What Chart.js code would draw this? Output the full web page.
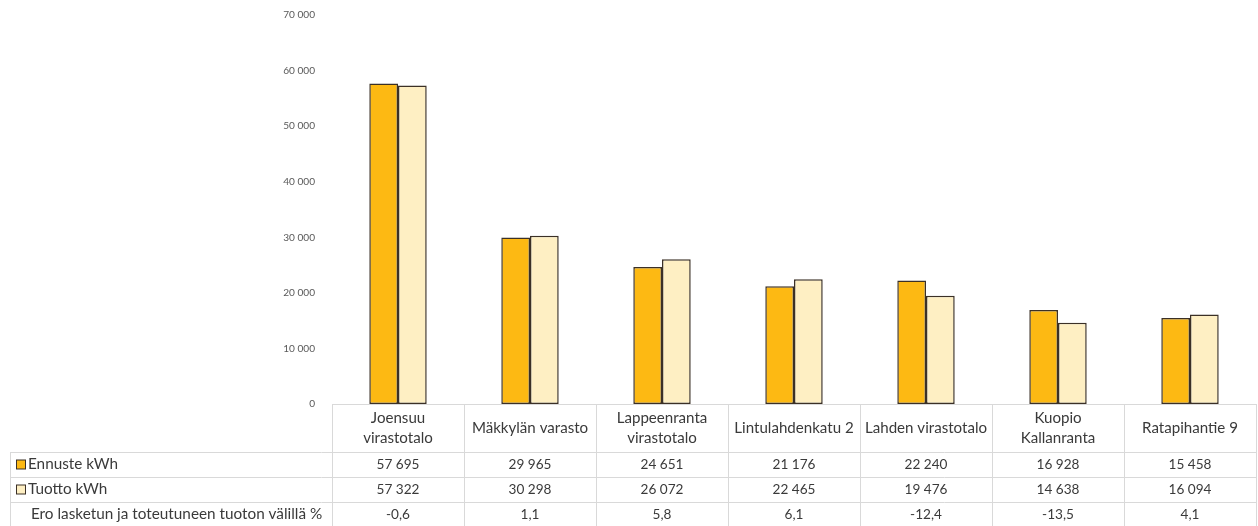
<!DOCTYPE html>
<html>
<head>
<meta charset="utf-8">
<script src="https://cdn.jsdelivr.net/npm/chart.js@4.4.1/dist/chart.umd.min.js"></script>
<style>
  html, body { margin: 0; padding: 0; background: #fff; }
  #wrap { width: 1258px; height: 526px; position: relative; }
</style>
</head>
<body>
<div id="wrap"><canvas id="kaavio"></canvas></div>
<script>
// kohteet (monirivinen nimi taulukon otsikkoriville)
const kohteet = [
  ["Joensuu", "virastotalo"],
  ["Mäkkylän varasto"],
  ["Lappeenranta", "virastotalo"],
  ["Lintulahdenkatu 2"],
  ["Lahden virastotalo"],
  ["Kuopio", "Kallanranta"],
  ["Ratapihantie 9"]
];
const ennuste = [57695, 29965, 24651, 21176, 22240, 16928, 15458];
const tuotto = [57322, 30298, 26072, 22465, 19476, 14638, 16094];
const ero = ["-0,6", "1,1", "5,8", "6,1", "-12,4", "-13,5", "4,1"];
const rivit = ["Ennuste kWh", "Tuotto kWh", "Ero lasketun ja toteutuneen tuoton välillä %"];
const yMax = 70000;
const yAskel = 10000;

const oranssi = "#FDB913";
const vaalea = "#FEEFC3";
const reuna = "#3b3026";
const fontti = "Lato, 'Open Sans', sans-serif";

function tuhannet(v) {
  return String(v).replace(/\B(?=(\d{3})+(?!\d))/g, " ");
}

// fonttikoko, jolla teksti on halutun levyinen (alkuperainen on Calibri)
const mittari = document.createElement("canvas").getContext("2d");
function koko(teksti, leveys) {
  mittari.font = "100px " + fontti;
  return Math.round(1000 * leveys / mittari.measureText(teksti).width) / 10;
}
const kokoRivi = koko(rivit[2], 292);
const kokoOts = koko("Mäkkylän varasto", 116);
const kokoLuku = koko("57 695", 43);
const kokoTick = koko("70 000", 32);

// piirretaan datataulukko kaavion alle
const taulukko = {
  id: "taulukko",
  afterDraw(chart) {
    const ctx = chart.ctx;
    const a = chart.chartArea;
    const n = kohteet.length;
    const lev = (a.right - a.left) / n;
    const y0 = a.bottom;
    const otsK = 48, riviK = 25;
    const ala = y0 + otsK + 3 * riviK;
    ctx.save();
    ctx.strokeStyle = "#d9d9d9";
    ctx.lineWidth = 1;
    ctx.beginPath();
    ctx.moveTo(a.left, y0 + 0.5); ctx.lineTo(a.right, y0 + 0.5);
    for (let r = 0; r < 3; r++) {
      const yy = Math.round(y0 + otsK + r * riviK) + 0.5;
      ctx.moveTo(10, yy); ctx.lineTo(a.right, yy);
    }
    ctx.moveTo(10.5, y0 + otsK); ctx.lineTo(10.5, ala);
    for (let i = 0; i <= n; i++) {
      const xx = Math.round(a.left + i * lev) + 0.5;
      ctx.moveTo(xx, y0); ctx.lineTo(xx, ala);
    }
    ctx.stroke();

    ctx.fillStyle = "#3a3a3a";
    ctx.textAlign = "center";
    ctx.textBaseline = "middle";
    for (let i = 0; i < n; i++) {
      const cx = a.left + (i + 0.5) * lev;
      const nimi = kohteet[i];
      const keski = y0 + otsK / 2;
      ctx.font = kokoOts + "px " + fontti;
      nimi.forEach((t, k) => {
        ctx.fillText(t, cx, keski + (k - (nimi.length - 1) / 2) * 20);
      });
      ctx.font = kokoLuku + "px " + fontti;
      ctx.fillText(tuhannet(ennuste[i]), cx, y0 + otsK + riviK / 2);
      ctx.fillText(tuhannet(tuotto[i]), cx, y0 + otsK + riviK * 1.5);
      ctx.fillText(ero[i], cx, y0 + otsK + riviK * 2.5);
    }
    // rivien otsikot ja selitteet
    ctx.textAlign = "left";
    ctx.font = kokoRivi + "px " + fontti;
    const varit = [oranssi, vaalea];
    rivit.forEach((t, r) => {
      const yy = y0 + otsK + riviK * (r + 0.5);
      if (r < 2) {
        ctx.fillStyle = varit[r];
        ctx.fillRect(16.5, yy - 4.5, 9, 9);
        ctx.strokeStyle = reuna;
        ctx.strokeRect(16.5, yy - 4.5, 9, 9);
      }
      ctx.fillStyle = "#3a3a3a";
      ctx.fillText(t, r < 2 ? 28 : 31, yy);
    });
    ctx.restore();
  }
};

new Chart(document.getElementById("kaavio"), {
  type: "bar",
  data: {
    labels: kohteet.map(k => k.join(" ")),
    datasets: [
      { label: rivit[0], data: ennuste, backgroundColor: oranssi, borderColor: reuna, borderWidth: 1.5, borderSkipped: false },
      { label: rivit[1], data: tuotto, backgroundColor: vaalea, borderColor: reuna, borderWidth: 1.5, borderSkipped: false }
    ]
  },
  options: {
    responsive: true,
    maintainAspectRatio: false,
    animation: false,
    layout: { padding: { left: 0, right: 2, top: 15, bottom: 122 } },
    datasets: { bar: { categoryPercentage: 0.435, barPercentage: 1.0 } },
    plugins: { legend: { display: false }, tooltip: { enabled: false } },
    scales: {
      x: { display: false },
      y: {
        min: 0,
        max: yMax,
        grid: { display: false },
        border: { display: false },
        ticks: {
          stepSize: yAskel,
          padding: 9,
          color: "#595959",
          font: { family: fontti, size: kokoTick },
          callback: v => tuhannet(v)
        },
        afterFit(scale) { scale.width = 332; }
      }
    }
  },
  plugins: [taulukko]
});
</script>
</body>
</html>
